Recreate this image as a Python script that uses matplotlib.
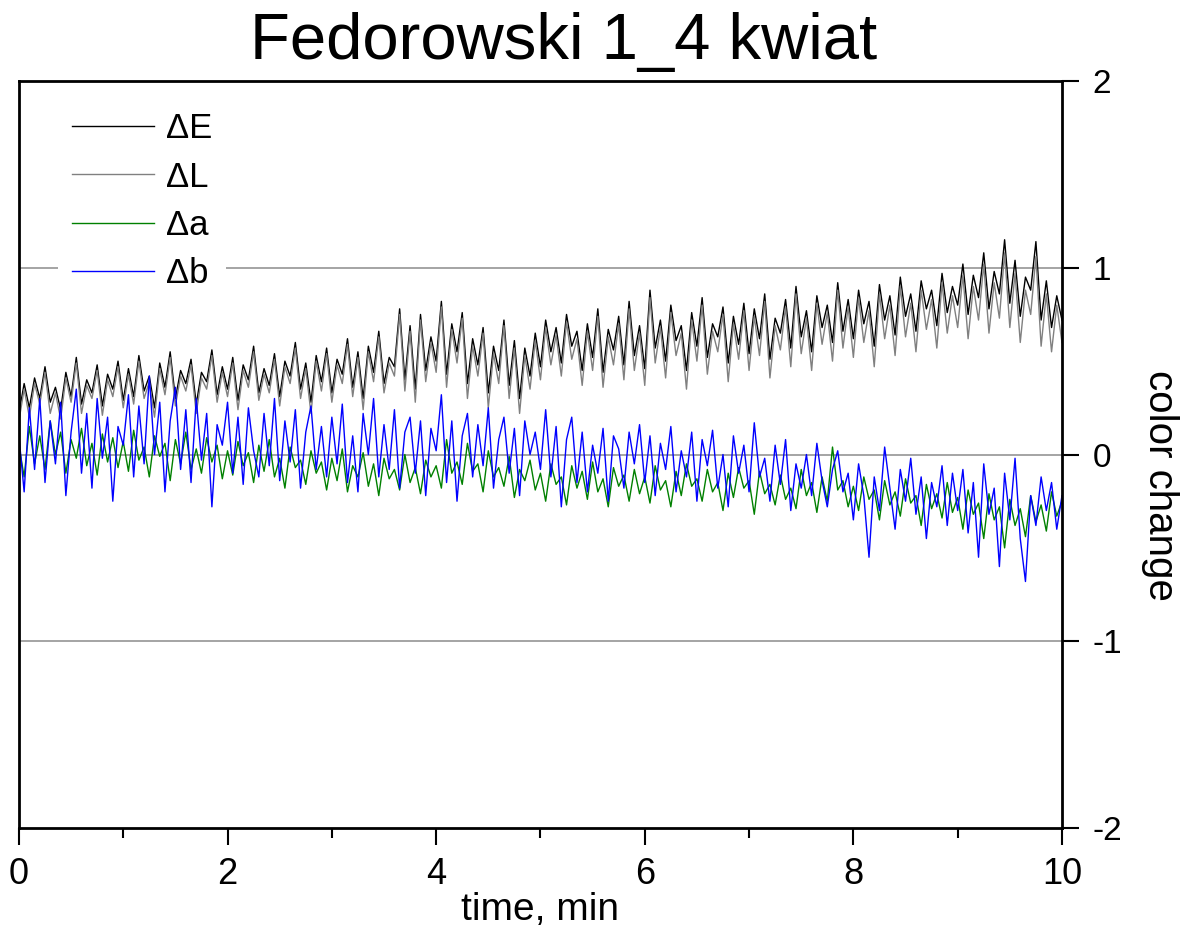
import numpy as np
import matplotlib.pyplot as plt

plt.rcParams['font.family'] = ['Liberation Sans', 'DejaVu Sans']

# time axis: 201 samples, one every 0.05 min
time_min = np.linspace(0, 10, 201)

dE = [0.22, 0.38, 0.25, 0.41, 0.30, 0.47, 0.28, 0.36, 0.24, 0.44, 0.31, 0.52, 0.27, 0.40, 0.33, 0.48, 0.26, 0.43, 0.35, 0.50,
      0.29, 0.46, 0.31, 0.53, 0.34, 0.42, 0.25, 0.49, 0.36, 0.55, 0.30, 0.45, 0.38, 0.51, 0.27, 0.44, 0.39, 0.56, 0.32, 0.47,
      0.35, 0.52, 0.29, 0.48, 0.40, 0.58, 0.33, 0.46, 0.37, 0.54, 0.31, 0.50, 0.42, 0.60, 0.35, 0.49, 0.28, 0.53, 0.39, 0.57,
      0.33, 0.51, 0.43, 0.62, 0.36, 0.55, 0.30, 0.58, 0.44, 0.66, 0.38, 0.52, 0.47, 0.78, 0.40, 0.69, 0.35, 0.75, 0.45, 0.63,
      0.50, 0.82, 0.43, 0.70, 0.55, 0.76, 0.38, 0.62, 0.48, 0.68, 0.33, 0.58, 0.45, 0.72, 0.37, 0.61, 0.30, 0.57, 0.42, 0.65,
      0.47, 0.72, 0.55, 0.68, 0.49, 0.75, 0.58, 0.66, 0.45, 0.70, 0.52, 0.78, 0.44, 0.67, 0.56, 0.74, 0.48, 0.82, 0.53, 0.69,
      0.46, 0.88, 0.57, 0.72, 0.50, 0.80, 0.61, 0.69, 0.45, 0.76, 0.58, 0.84, 0.52, 0.70, 0.63, 0.79, 0.49, 0.74, 0.59, 0.81,
      0.54, 0.78, 0.62, 0.86, 0.51, 0.73, 0.65, 0.83, 0.57, 0.90, 0.63, 0.77, 0.55, 0.85, 0.68, 0.80, 0.60, 0.92, 0.66, 0.83,
      0.62, 0.88, 0.70, 0.82, 0.58, 0.91, 0.72, 0.85, 0.64, 0.95, 0.74, 0.86, 0.66, 0.93, 0.78, 0.88, 0.69, 0.97, 0.76, 0.90,
      0.80, 1.02, 0.75, 0.96, 0.84, 1.08, 0.78, 0.98, 0.86, 1.15, 0.81, 1.04, 0.74, 0.95, 0.88, 1.14, 0.72, 0.93, 0.68, 0.85,
      0.72]

dL = [0.18, 0.35, 0.20, 0.38, 0.27, 0.44, 0.22, 0.33, 0.19, 0.41, 0.28, 0.49, 0.22, 0.37, 0.30, 0.45, 0.21, 0.40, 0.31, 0.47,
      0.25, 0.43, 0.27, 0.50, 0.30, 0.39, 0.20, 0.46, 0.32, 0.52, 0.26, 0.42, 0.34, 0.48, 0.22, 0.41, 0.35, 0.53, 0.28, 0.44,
      0.31, 0.49, 0.24, 0.45, 0.36, 0.55, 0.29, 0.43, 0.33, 0.51, 0.26, 0.47, 0.38, 0.57, 0.30, 0.46, 0.22, 0.50, 0.34, 0.54,
      0.28, 0.48, 0.38, 0.59, 0.31, 0.52, 0.24, 0.55, 0.39, 0.63, 0.33, 0.49, 0.42, 0.75, 0.34, 0.66, 0.28, 0.72, 0.39, 0.60,
      0.44, 0.79, 0.36, 0.67, 0.49, 0.73, 0.30, 0.58, 0.42, 0.65, 0.25, 0.54, 0.38, 0.69, 0.30, 0.57, 0.22, 0.53, 0.35, 0.61,
      0.40, 0.68, 0.48, 0.64, 0.42, 0.71, 0.51, 0.62, 0.37, 0.66, 0.45, 0.74, 0.36, 0.63, 0.48, 0.70, 0.40, 0.78, 0.45, 0.65,
      0.37, 0.84, 0.49, 0.68, 0.41, 0.76, 0.53, 0.65, 0.35, 0.72, 0.50, 0.80, 0.43, 0.66, 0.55, 0.75, 0.39, 0.70, 0.51, 0.77,
      0.45, 0.74, 0.53, 0.82, 0.41, 0.69, 0.56, 0.79, 0.47, 0.86, 0.54, 0.73, 0.45, 0.81, 0.59, 0.76, 0.50, 0.88, 0.57, 0.79,
      0.52, 0.84, 0.60, 0.77, 0.47, 0.86, 0.62, 0.80, 0.53, 0.90, 0.63, 0.81, 0.55, 0.88, 0.67, 0.83, 0.57, 0.92, 0.65, 0.85,
      0.68, 0.96, 0.62, 0.90, 0.72, 1.02, 0.65, 0.92, 0.73, 1.08, 0.68, 0.97, 0.60, 0.88, 0.75, 1.06, 0.58, 0.86, 0.55, 0.80,
      0.60]

da = [0.05, -0.12, 0.15, -0.05, 0.10, -0.08, 0.18, 0.00, 0.12, -0.10, 0.08, -0.02, 0.14, -0.06, 0.06, -0.11, 0.11, -0.04, 0.09, -0.07,
      0.07, -0.09, 0.13, -0.03, 0.04, -0.12, 0.10, -0.01, 0.06, -0.14, 0.08, -0.05, 0.12, -0.08, 0.03, -0.10, 0.09, -0.04, 0.05, -0.13,
      0.02, -0.11, 0.07, -0.06, 0.01, -0.15, 0.05, -0.09, 0.08, -0.12, -0.02, -0.18, 0.04, -0.07, -0.03, -0.16, 0.02, -0.10, -0.04, -0.19,
      -0.02, -0.14, 0.03, -0.20, -0.06, -0.12, 0.01, -0.17, -0.05, -0.22, -0.02, -0.13, -0.08, -0.19, 0.00, -0.15, -0.07, -0.21, -0.03, -0.12,
      -0.06, -0.18, 0.08, -0.10, -0.04, -0.16, 0.06, -0.09, -0.05, -0.20, 0.02, -0.12, -0.07, -0.17, -0.01, -0.23, -0.08, -0.14, -0.03, -0.19,
      -0.10, -0.25, -0.05, -0.16, -0.12, -0.27, -0.06, -0.18, -0.09, -0.24, -0.04, -0.20, -0.13, -0.28, -0.07, -0.17, -0.11, -0.25, -0.08, -0.21,
      -0.12, -0.26, -0.06, -0.19, -0.14, -0.28, -0.09, -0.22, -0.05, -0.17, -0.13, -0.25, -0.08, -0.20, -0.15, -0.30, -0.10, -0.23, -0.07, -0.18,
      -0.14, -0.32, -0.09, -0.21, -0.16, -0.27, -0.11, -0.24, -0.18, -0.29, -0.08, -0.22, -0.15, -0.31, -0.12, -0.25, 0.04, -0.19, -0.14, -0.28,
      -0.17, -0.30, -0.12, -0.24, -0.19, -0.35, -0.14, -0.27, -0.20, -0.33, -0.13, -0.26, -0.22, -0.38, -0.16, -0.29, -0.21, -0.34, -0.15, -0.31,
      -0.23, -0.40, -0.19, -0.32, -0.26, -0.45, -0.21, -0.35, -0.28, -0.50, -0.24, -0.38, -0.29, -0.44, -0.22, -0.36, -0.27, -0.41, -0.20, -0.33,
      -0.25]

db = [0.10, -0.20, 0.25, -0.08, 0.30, -0.15, 0.18, -0.05, 0.28, -0.22, 0.12, 0.35, -0.10, 0.22, -0.18, 0.30, -0.02, 0.20, -0.25, 0.15,
      0.05, 0.32, -0.12, 0.26, -0.05, 0.42, 0.00, 0.28, -0.20, 0.18, 0.36, -0.08, 0.24, -0.15, 0.30, -0.03, 0.22, -0.28, 0.16, 0.05,
      0.28, -0.10, 0.20, -0.16, 0.25, 0.02, -0.12, 0.22, -0.06, 0.30, -0.14, 0.18, -0.04, 0.24, -0.18, 0.12, 0.26, -0.08, 0.15, -0.12,
      0.20, -0.05, 0.27, -0.15, 0.10, -0.20, 0.22, 0.00, 0.30, -0.12, 0.16, -0.08, 0.24, -0.18, 0.12, 0.20, -0.10, 0.18, -0.22, 0.14,
      0.02, 0.32, -0.15, 0.18, -0.25, 0.10, 0.22, -0.12, 0.16, -0.06, 0.25, -0.18, 0.08, 0.20, -0.10, 0.14, -0.22, 0.18, 0.00, 0.12,
      -0.08, 0.24, -0.12, 0.15, -0.28, 0.08, 0.20, -0.15, 0.12, -0.20, 0.05, -0.10, 0.14, -0.25, 0.10, 0.03, -0.18, 0.12, -0.05, 0.16,
      -0.15, 0.10, -0.22, 0.06, -0.08, 0.15, -0.20, 0.02, -0.12, 0.12, -0.25, 0.08, -0.06, 0.13, -0.18, 0.00, -0.28, 0.10, -0.10, 0.05,
      -0.20, 0.17, -0.12, -0.02, -0.25, 0.05, -0.16, 0.08, -0.30, -0.05, -0.18, 0.00, -0.22, 0.06, -0.14, -0.28, -0.08, 0.02, -0.20, -0.10,
      -0.35, -0.05, -0.22, -0.55, -0.12, -0.30, 0.04, -0.18, -0.40, -0.08, -0.25, -0.02, -0.32, -0.12, -0.45, -0.15, -0.28, -0.06, -0.38, -0.10,
      -0.30, -0.08, -0.42, -0.15, -0.55, -0.05, -0.32, -0.18, -0.60, -0.10, -0.35, -0.02, -0.45, -0.68, -0.22, -0.38, -0.12, -0.30, -0.15, -0.40,
      -0.22]

series = [(dE, 'black', '\u0394E'), (dL, 'gray', '\u0394L'),
          (da, 'green', '\u0394a'), (db, 'blue', '\u0394b')]

fig = plt.figure(figsize=(11.83, 9.31), dpi=100)
ax = fig.add_axes([0.016, 0.1106, 0.8817, 0.8024])

for yv in [-1, 0, 1]:
    ax.axhline(yv, color='#8c8c8c', lw=1.1, zorder=1)

for vals, col, lab in series:
    ax.plot(time_min, vals, color=col, lw=1.0, label=lab, zorder=2)

ax.set_xlim(0, 10)
ax.set_ylim(-2, 2)

ax.set_xticks([0, 2, 4, 6, 8, 10])
ax.set_xticks([1, 3, 5, 7, 9], minor=True)
ax.yaxis.tick_right()
ax.yaxis.set_label_position('right')
ax.set_yticks([-2, -1, 0, 1, 2])
ax.set_yticklabels(['-2', '-1', '0', '1', '2'])
ax.tick_params(axis='x', which='major', direction='out', length=12, width=1.5, labelsize=26, pad=9)
ax.tick_params(axis='x', which='minor', direction='out', length=7, width=1.5)
ax.tick_params(axis='y', which='major', direction='out', length=12, width=1.5, labelsize=24, pad=10)

for sp in ax.spines.values():
    sp.set_linewidth(2)

ax.set_xlabel('time, min', fontsize=28, labelpad=0)
ax.set_ylabel('color change', fontsize=29, rotation=270, va='center')
ax.yaxis.set_label_coords(1.094, 0.458)
fig.text(0.476, 0.955, 'Fedorowski 1_4 kwiat', fontsize=47, ha='center', va='center')

leg = ax.legend(loc='upper left', bbox_to_anchor=(0.021, 1.0), fontsize=25, handlelength=2.35,
                handletextpad=0.35, labelspacing=0.44, borderpad=0.4, frameon=True, fancybox=False)
leg.get_frame().set_edgecolor('none')
leg.get_frame().set_facecolor('white')
leg.get_frame().set_alpha(1)

fig.savefig('out.png', dpi=100)
